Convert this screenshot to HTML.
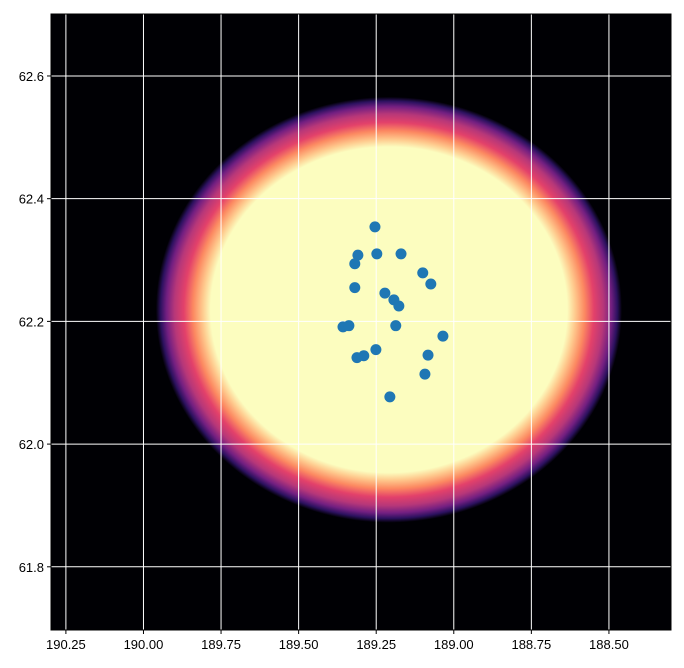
<!DOCTYPE html>
<html><head><meta charset="utf-8"><style>
html,body{margin:0;padding:0;background:#fff;}
text{font-family:"Liberation Sans",sans-serif;font-size:13px;fill:#000;}
</style></head><body>
<svg id="chart" width="684" height="663" xmlns="http://www.w3.org/2000/svg">
<defs>
<radialGradient id="magma" cx="0.5" cy="0.5" r="0.5">
<stop offset="0" stop-color="#fcfdbf"/>
<stop offset="0.765" stop-color="#fcfdbf"/>
<stop offset="0.80" stop-color="#fec98d"/>
<stop offset="0.84" stop-color="#fc8961"/>
<stop offset="0.88" stop-color="#e3416a"/>
<stop offset="0.92" stop-color="#b73779"/>
<stop offset="0.955" stop-color="#721f81"/>
<stop offset="0.98" stop-color="#2c115f"/>
<stop offset="1" stop-color="#000004"/>
</radialGradient>
<clipPath id="clip"><rect x="51" y="14" width="620" height="616"/></clipPath>
</defs>
<g id="plot"></g>
</svg>
<script>
const xTicks=[190.25,190.00,189.75,189.50,189.25,189.00,188.75,188.50];
const yTicks=[61.8,62.0,62.2,62.4,62.6];
const lons=[189.254,189.248,189.170,189.309,189.319,189.100,189.074,189.319,189.222,189.193,189.177,189.357,189.338,189.187,189.035,189.251,189.290,189.312,189.083,189.093,189.206];
const lats=[62.354,62.310,62.310,62.308,62.294,62.279,62.261,62.255,62.246,62.235,62.225,62.191,62.193,62.193,62.176,62.154,62.144,62.141,62.145,62.114,62.077];
const heatCenter=[189.209,62.219];
const heatRadius=[0.751,0.347];

const L=51,T=14,W=620,H=616;
const xMin=190.298,xMax=188.300,yMin=61.697,yMax=62.701;
const X=v=>L+(v-xMin)/(xMax-xMin)*W;
const Y=v=>T+(yMax-v)/(yMax-yMin)*H;
const NS="http://www.w3.org/2000/svg";
const g=document.getElementById('plot');
function mk(t,a,p){const e=document.createElementNS(NS,t);for(const k in a)e.setAttribute(k,a[k]);(p||g).appendChild(e);return e;}

const bg=mk('rect',{x:L,y:T,width:W,height:H,fill:'#000004'});


const cg=mk('g',{'clip-path':'url(#clip)'});
const heat=mk('ellipse',{cx:X(heatCenter[0]),cy:Y(heatCenter[1]),rx:Math.abs(X(heatCenter[0]+heatRadius[0])-X(heatCenter[0])),ry:Math.abs(Y(heatCenter[1]+heatRadius[1])-Y(heatCenter[1])),fill:'url(#magma)'},cg);



xTicks.forEach(v=>{
  const x=X(v);
  const gl=mk('line',{x1:x,x2:x,y1:T,y2:T+H,stroke:'#fff','stroke-width':1},cg);
  
  
  mk('line',{x1:x,x2:x,y1:T+H,y2:T+H+4,stroke:'#000'});
  const t=mk('text',{x:x,y:T+H+19,'text-anchor':'middle'});t.textContent=v.toFixed(2);
  
  
});
yTicks.forEach(v=>{
  const y=Y(v);
  const gl=mk('line',{x1:L,x2:L+W,y1:y,y2:y,stroke:'#fff','stroke-width':1},cg);
  
  
  mk('line',{x1:L-4,x2:L,y1:y,y2:y,stroke:'#000'});
  const t=mk('text',{x:L-7,y:y+5,'text-anchor':'end'});t.textContent=v.toFixed(1);
  
  
});
lons.forEach((v,i)=>{
  const c=mk('circle',{cx:X(v),cy:Y(lats[i]),r:5.5,fill:'#1f77b4'},cg);
  
  
});
const fr=mk('rect',{x:L,y:T,width:W,height:H,fill:'none',stroke:'#000','stroke-width':1});


</script>
</body></html>
